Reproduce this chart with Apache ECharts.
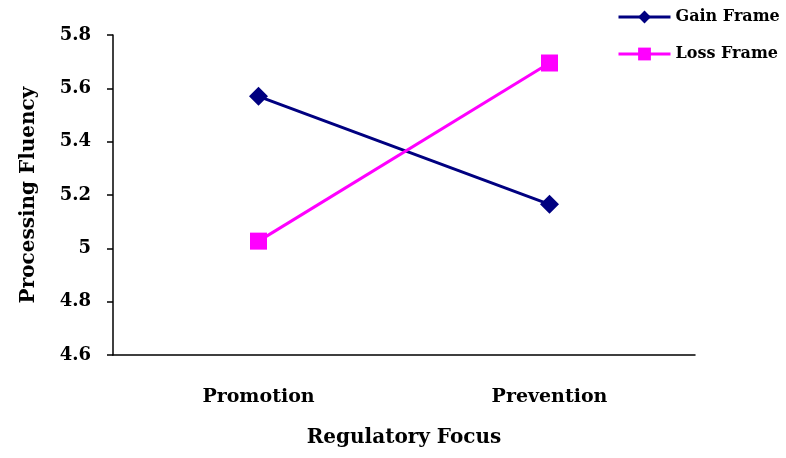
<!DOCTYPE html>
<html><head><meta charset="utf-8">
<script src="https://cdn.jsdelivr.net/npm/echarts@6/dist/echarts.min.js"></script>
<style>html,body{margin:0;padding:0;background:#fff}#c{width:786px;height:458px}</style>
</head><body><div id="c"></div>
<script>
var categories = ['Promotion', 'Prevention'];
var gainFrame = [5.57, 5.165];
var lossFrame = [5.027, 5.695];
var yTicks = [4.6, 4.8, 5.0, 5.2, 5.4, 5.6, 5.8];
var font = 'DejaVu Serif';
var chart = echarts.init(document.getElementById('c'));
chart.setOption({
  animation: false,
  backgroundColor: '#fff',
  grid: {left: 113, right: 91, top: 35, bottom: 103},
  legend: {
    orient: 'vertical', left: 612, top: 4, itemGap: 21,
    itemWidth: 52, itemHeight: 16,
    lineStyle: {width: 3},
    textStyle: {fontFamily: font, fontWeight: 'bold', fontSize: 16, color: '#000'},
    data: ['Gain Frame', 'Loss Frame']
  },
  xAxis: {
    type: 'category', data: categories, boundaryGap: true,
    name: 'Regulatory Focus', nameLocation: 'middle', nameGap: 73,
    nameTextStyle: {fontFamily: font, fontWeight: 'bold', fontSize: 20, color: '#000'},
    axisLine: {lineStyle: {color: '#000', width: 1.5}},
    axisTick: {show: false},
    axisLabel: {margin: 33, fontFamily: font, fontWeight: 'bold', fontSize: 19, color: '#000'}
  },
  yAxis: {
    type: 'value', min: yTicks[0], max: yTicks[yTicks.length - 1], interval: 0.2,
    name: 'Processing Fluency', nameLocation: 'middle', nameGap: 74,
    nameTextStyle: {fontFamily: font, fontWeight: 'bold', fontSize: 20, color: '#000'},
    axisLine: {show: true, lineStyle: {color: '#000', width: 1.5}},
    axisTick: {show: true, length: 6, lineStyle: {color: '#000', width: 1.5}},
    splitLine: {show: false},
    axisLabel: {margin: 22, fontFamily: font, fontWeight: 'bold', fontSize: 18, color: '#000',
      formatter: function (v) { return Math.abs(v - 5) < 1e-9 ? '5' : v.toFixed(1); }}
  },
  series: [
    {name: 'Gain Frame', type: 'line', data: gainFrame, symbol: 'diamond', symbolSize: 19,
      itemStyle: {color: '#000080'}, lineStyle: {color: '#000080', width: 3}},
    {name: 'Loss Frame', type: 'line', data: lossFrame, symbol: 'rect', symbolSize: 17,
      itemStyle: {color: '#FF00FF'}, lineStyle: {color: '#FF00FF', width: 3}}
  ]
});
</script></body></html>
